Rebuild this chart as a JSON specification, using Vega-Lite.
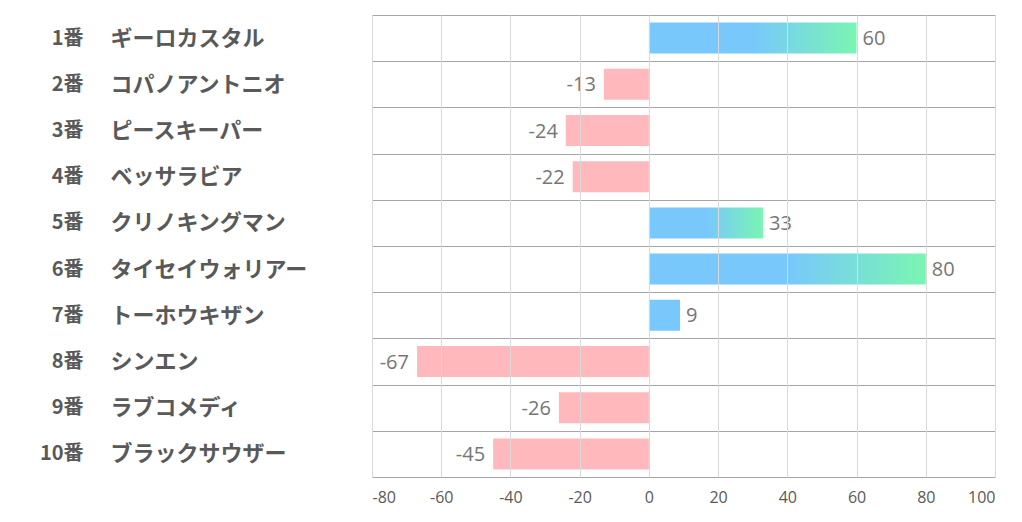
{
  "$schema": "https://vega.github.io/schema/vega-lite/v6.json",
  "width": 623,
  "height": 462,
  "autosize": {"type": "none"},
  "padding": {"left": 372, "top": 15, "right": 27, "bottom": 45},
  "background": "white",
  "config": {
    "view": {"stroke": null},
    "font": "Noto Sans CJK JP",
    "locale": {
      "number": {
        "decimal": ".",
        "thousands": ",",
        "grouping": [3],
        "currency": ["$", ""],
        "minus": "-"
      }
    }
  },
  "data": {
    "values": [
      {"no": "1番", "name": "ギーロカスタル", "value": 60},
      {"no": "2番", "name": "コパノアントニオ", "value": -13},
      {"no": "3番", "name": "ピースキーパー", "value": -24},
      {"no": "4番", "name": "ベッサラビア", "value": -22},
      {"no": "5番", "name": "クリノキングマン", "value": 33},
      {"no": "6番", "name": "タイセイウォリアー", "value": 80},
      {"no": "7番", "name": "トーホウキザン", "value": 9},
      {"no": "8番", "name": "シンエン", "value": -67},
      {"no": "9番", "name": "ラブコメディ", "value": -26},
      {"no": "10番", "name": "ブラックサウザー", "value": -45}
    ]
  },
  "layer": [
    {
      "encoding": {
        "y": {
          "field": "no", "type": "nominal", "sort": null,
          "scale": {"paddingInner": 0, "paddingOuter": 0},
          "axis": {
            "title": null, "orient": "left", "ticks": false, "tickSize": 0, "domain": false,
            "labelPadding": 289, "labelAlign": "right",
            "labelFont": "Noto Sans CJK JP", "labelFontWeight": "bold", "labelFontSize": 20, "labelColor": "#595959",
            "grid": true, "tickBand": "extent", "gridColor": "#a6a6a6", "gridWidth": 1
          }
        },
        "x": {
          "field": "value", "type": "quantitative",
          "scale": {"domain": [-80, 100], "nice": false},
          "axis": {
            "title": null, "values": [-80, -60, -40, -20, 0, 20, 40, 60, 80, 100],
            "grid": true, "gridColor": "#d9d9d9", "domain": false, "ticks": false, "tickSize": 0,
            "labelPadding": 12, "labelFont": "Open Sans", "labelFontSize": 16, "labelColor": "#595959",
            "zindex": 1
          }
        }
      },
      "layer": [
        {
          "mark": {"type": "point", "opacity": 0}
        },
        {
          "transform": [{"filter": "datum.value >= 20"}],
          "mark": {
            "type": "bar", "height": {"band": 0.67},
            "color": {
              "x1": 0, "y1": 0, "x2": 1, "y2": 0, "gradient": "linear",
              "stops": [
                {"offset": 0, "color": "#78c8fc"},
                {"offset": 0.5, "color": "#78c8fc"},
                {"offset": 1, "color": "#7af5b2"}
              ]
            }
          },
          "encoding": {"x2": {"datum": 0}}
        },
        {
          "transform": [{"filter": "datum.value >= 0 && datum.value < 20"}],
          "mark": {"type": "bar", "height": {"band": 0.67}, "color": "#78c8fc"},
          "encoding": {"x2": {"datum": 0}}
        },
        {
          "transform": [{"filter": "datum.value < 0"}],
          "mark": {"type": "bar", "height": {"band": 0.67}, "color": "#ffb9bc"},
          "encoding": {"x2": {"datum": 0}}
        },
        {
          "transform": [{"filter": "datum.value >= 0"}],
          "mark": {"type": "text", "align": "left", "dx": 6, "dy": 1, "font": "Open Sans", "fontSize": 20, "color": "#767676"},
          "encoding": {"text": {"field": "value", "type": "quantitative", "format": "d"}}
        },
        {
          "transform": [{"filter": "datum.value < 0"}],
          "mark": {"type": "text", "align": "right", "dx": -8, "dy": 1, "font": "Open Sans", "fontSize": 20, "color": "#767676"},
          "encoding": {"text": {"field": "value", "type": "quantitative", "format": "d"}}
        }
      ]
    },
    {
      "mark": {"type": "point", "opacity": 0},
      "encoding": {
        "y": {
          "field": "name", "type": "nominal", "sort": null,
          "scale": {"paddingInner": 0, "paddingOuter": 0},
          "axis": {
            "title": null, "orient": "left", "ticks": false, "tickSize": 0, "domain": false, "grid": false,
            "labelPadding": 262, "labelAlign": "left",
            "labelFont": "Noto Sans CJK JP", "labelFontWeight": "bold", "labelFontSize": 22, "labelColor": "#595959",
            "labelLimit": 300
          }
        },
        "x": {"field": "value", "type": "quantitative"}
      }
    }
  ],
  "resolve": {"scale": {"y": "independent"}, "axis": {"y": "independent"}}
}
